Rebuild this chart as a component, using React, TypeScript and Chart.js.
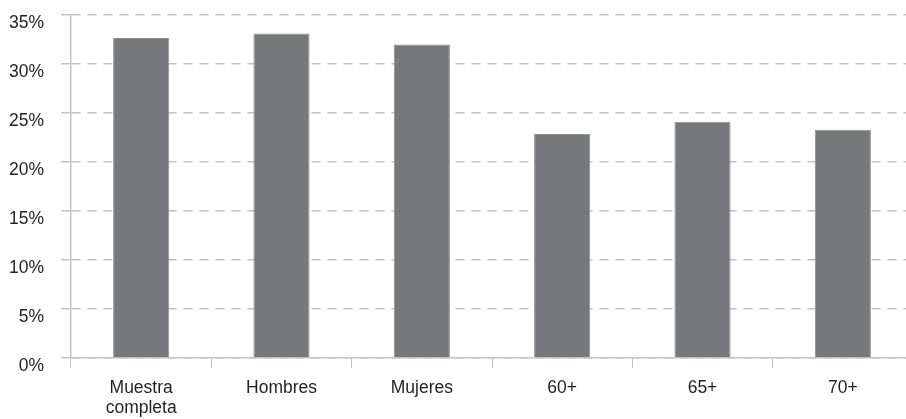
import React, { useEffect, useRef } from "react";
import { Chart, registerables } from "chart.js";

Chart.register(...registerables);

const categories: (string | string[])[] = [["Muestra", "completa"], "Hombres", "Mujeres", "60+", "65+", "70+"];
const values: number[] = [32.65, 33.1, 32.0, 22.85, 24.1, 23.3];
const yTicks: number[] = [0, 5, 10, 15, 20, 25, 30, 35];

export default function App() {
  const ref = useRef<HTMLCanvasElement | null>(null);
  useEffect(() => {
    if (!ref.current) return;
    const font = { family: "'Liberation Sans', Arial, sans-serif", size: 17.5, lineHeight: 1.1 };
    const chart = new Chart(ref.current, {
      type: "bar",
      data: {
        labels: categories,
        datasets: [
          {
            data: values,
            backgroundColor: "#77787c",
            borderColor: "#8e8f92",
            borderWidth: 1,
            categoryPercentage: 1,
            barPercentage: 0.4,
          },
        ],
      },
      options: {
        responsive: false,
        animation: false,
        devicePixelRatio: 1,
        layout: { padding: { top: 15, right: 0, left: 0, bottom: 0 } },
        plugins: { legend: { display: false }, tooltip: { enabled: false } },
        scales: {
          x: {
            offset: true,
            grid: { display: true, drawOnChartArea: false, drawTicks: true, tickLength: 10, color: "#c3c3c3", offset: true },
            border: { display: true, color: "#c3c3c3", width: 1.5 },
            ticks: { color: "#231f20", font, padding: 11, maxRotation: 0, autoSkip: false },
            afterFit: (s: any) => { s.height = 61; s.paddingLeft = 0; s.paddingRight = 0; },
          },
          y: {
            min: 0,
            max: 35,
            afterBuildTicks: (s: any) => { s.ticks = yTicks.map((v) => ({ value: v })); },
            grid: { color: "#c3c3c3", lineWidth: 1.5, tickLength: 10, drawTicks: true, tickBorderDash: [] },
            border: { display: true, color: "#c3c3c3", width: 1.5, dash: [9, 7] },
            ticks: {
              color: "#231f20",
              font,
              padding: 17,
              labelOffset: 8.5,
              callback: (v: any) => v + "%",
            },
            afterFit: (s: any) => { s.width = 71; s.paddingTop = 0; s.paddingBottom = 0; },
          },
        },
      },
    });
    return () => chart.destroy();
  }, []);
  return (
    <div style={{ position: "absolute", left: 0, top: 0, width: 906, height: 419, overflow: "hidden", background: "#fff" }}>
      <canvas ref={ref} width={913} height={419} style={{ width: 913, height: 419, display: "block" }} />
    </div>
  );
}
